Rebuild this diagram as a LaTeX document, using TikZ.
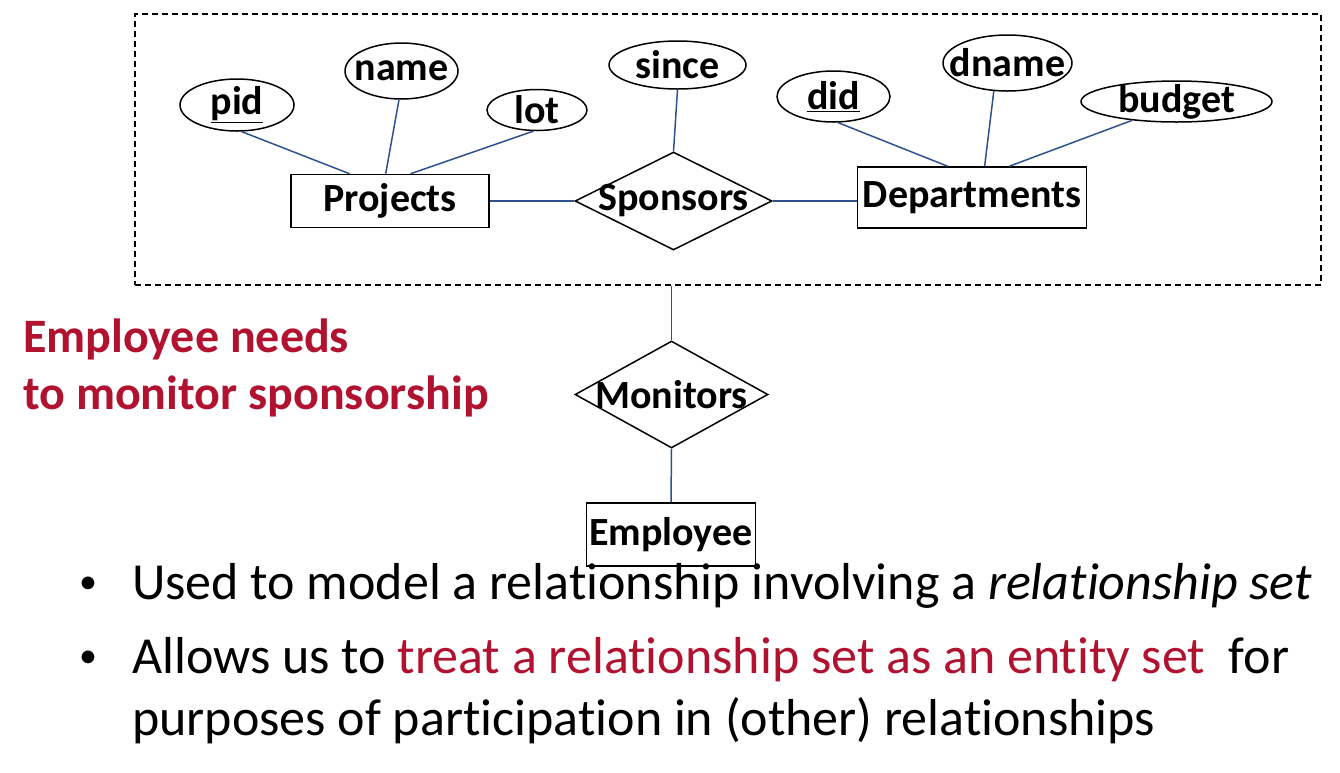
\documentclass[tikz,border=0pt]{standalone}
\usepackage{fontspec}
\setmainfont{Carlito}[Ligatures = NoCommon]
\usepackage{tikz}
\usetikzlibrary{positioning}
\usetikzlibrary{shapes}

\definecolor{slidered}{RGB}{176,18,48}
\definecolor{edgeblue}{RGB}{47,82,143}
\newcommand{\erfont}{\bfseries\fontsize{40}{44}\selectfont}
\newcommand{\notefont}{\bfseries\fontsize{48}{58}\selectfont}
\newcommand{\itemfont}{\fontsize{52}{62}\selectfont}

\begin{document}
\begin{tikzpicture}[x = 1pt, y = -1pt,
    entity/.style = {draw, rectangle, line width = 1.5, inner sep = 0, font = \erfont},
    relation/.style = {draw, diamond, line width = 1.5, inner sep = 0},
    attr/.style = {draw, ellipse, line width = 1.5, inner sep = 0},
    conn/.style = {draw = edgeblue, line width = 1.5},
    dotbox/.style = {font = \fontsize{36}{40}\selectfont, inner sep = 0},
    every label/.style = {font = \erfont, inner sep = 0}]
    \useasboundingbox[fill = white] (0,0) rectangle (1340,772);
    % nodes %
    \node[draw, line width = 1.5, dash pattern = on 6 off 4, minimum width = 1186, minimum height = 271, inner sep = 0] (agg) at (728,149.5) {};
    \node[entity, minimum width = 198, minimum height = 53] (proj) at (390,201) {Projects};
    \node[relation, minimum width = 197, minimum height = 98, label = center:Sponsors] (spons) at (673.5,201) {};
    \node[entity, minimum width = 229, minimum height = 61] (dept) at (972,197.5) {Departments};
    \node[attr, minimum width = 114, minimum height = 52, label = {center:\underline{pid}}] (pid) at (237,105) {};
    \node[attr, minimum width = 113, minimum height = 56, label = center:name] (name) at (401.5,71) {};
    \node[attr, minimum width = 100, minimum height = 41, label = center:lot] (lot) at (537,110) {};
    \node[attr, minimum width = 137, minimum height = 48, label = center:since] (since) at (677.5,65) {};
    \node[attr, minimum width = 113, minimum height = 51, label = {center:\underline{did}}] (did) at (833.5,96.5) {};
    \node[attr, minimum width = 129, minimum height = 56, label = center:dname] (dname) at (1007.5,63) {};
    \node[attr, minimum width = 191, minimum height = 41, label = center:budget] (budget) at (1176.5,101.5) {};
    \node[relation, minimum width = 193, minimum height = 107, label = center:Monitors] (mon) at (671.5,394.5) {};
    \node[entity, minimum width = 169, minimum height = 63] (emp) at (671,534.5) {Employee};
    \node[anchor = base west, text = slidered, font = \notefont, inner sep = 0] (need1) at (23,352) {Employee needs};
    \node[anchor = base west, text = slidered, font = \notefont, inner sep = 0] (need2) at (23,409) {to monitor sponsorship};
    \node[dotbox] (dot1) at (88,585) {\textbullet};
    \node[anchor = base west, font = \itemfont, inner sep = 0] (item1) at (132,599) {Used to model a relationship involving a \textit{relationship set}};
    \node[dotbox] (dot2) at (88,659) {\textbullet};
    \node[anchor = base west, font = \itemfont, inner sep = 0] (item2) at (132,673) {Allows us to \textcolor{slidered}{treat a relationship set as an entity set}\ \ for};
    \node[anchor = base west, font = \itemfont, inner sep = 0] (item3) at (132,735) {purposes of participation in (other) relationships};
    % edges %
    \draw[conn] (pid.280) -- (proj.146);
    \draw[conn] (name.265) -- (proj.99);
    \draw[conn] (lot.260) -- (proj.53);
    \draw[conn] (since.south) -- (spons.north);
    \draw[conn] (did.280) -- (dept.128);
    \draw[conn] (dname.244) -- (dept.68);
    \draw[conn] (budget.203) -- (dept.40);
    \draw[conn] (proj.east |- spons.west) -- (spons.west);
    \draw[conn] (spons.east) -- (spons.east -| dept.west);
    \draw[conn] (agg.south -| mon.north) -- (mon.north);
    \draw[conn] (mon.south) -- (emp.north);
\end{tikzpicture}
\end{document}
